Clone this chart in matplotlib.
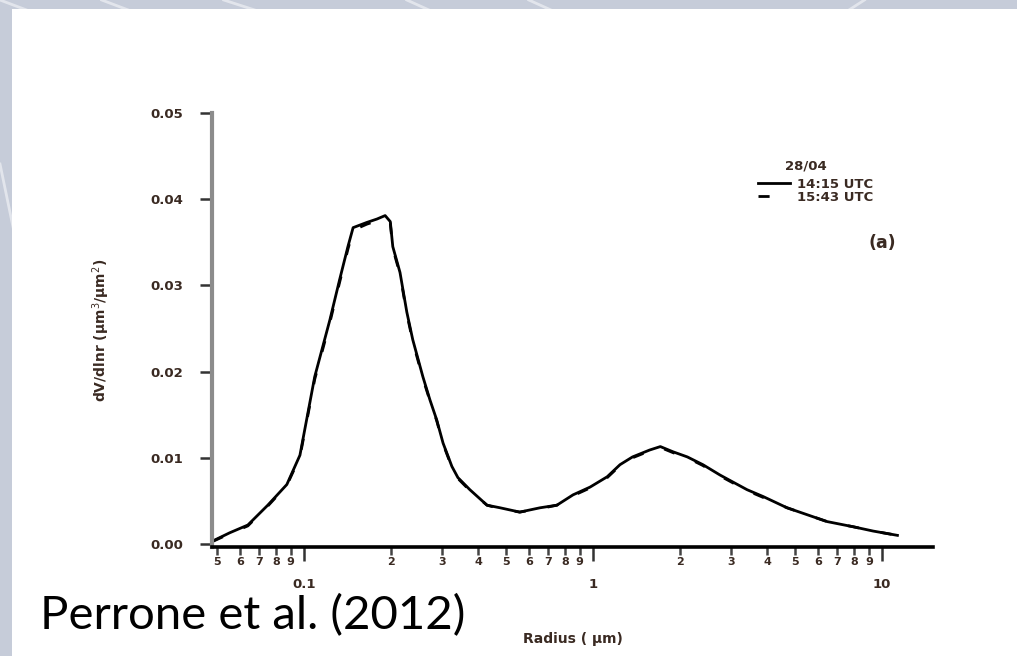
import matplotlib
matplotlib.use('Agg')
import matplotlib.pyplot as plt
from matplotlib import ticker
from matplotlib.patches import Rectangle
from matplotlib.lines import Line2D

# size distribution (radius in um, dV/dlnr)
radius = [0.0484, 0.0554, 0.0640, 0.0750, 0.0873, 0.0969, 0.109, 0.123, 0.133, 0.142,
          0.148, 0.165, 0.179, 0.191, 0.199, 0.203, 0.215, 0.227, 0.238, 0.258,
          0.273, 0.288, 0.303, 0.325, 0.341, 0.375, 0.430, 0.477, 0.558, 0.656,
          0.750, 0.853, 0.977, 1.12, 1.24, 1.37, 1.57, 1.71, 1.89, 2.12,
          2.40, 2.75, 3.41, 3.88, 4.69, 5.50, 6.45, 7.94, 9.31, 11.3]
dv_1415 = [0.00035, 0.0013, 0.0022, 0.0045, 0.0069, 0.0103, 0.0194, 0.0260, 0.0307, 0.0345,
           0.0367, 0.0373, 0.0377, 0.0381, 0.0374, 0.0345, 0.0315, 0.0269, 0.0237, 0.0194,
           0.0167, 0.0144, 0.0117, 0.0090, 0.0077, 0.0063, 0.0045, 0.0042, 0.0037, 0.0042,
           0.0045, 0.0057, 0.0066, 0.0078, 0.0092, 0.0101, 0.0109, 0.0113, 0.0107, 0.0101,
           0.0092, 0.0080, 0.0063, 0.0055, 0.0042, 0.0034, 0.0026, 0.0020, 0.0015, 0.0010]
dv_1543 = [0.00030, 0.0012, 0.0021, 0.0044, 0.0068, 0.0101, 0.0191, 0.0257, 0.0304, 0.0342,
           0.0364, 0.0371, 0.0375, 0.0378, 0.0372, 0.0343, 0.0313, 0.0267, 0.0235, 0.0192,
           0.0166, 0.0143, 0.0116, 0.0089, 0.0076, 0.0062, 0.0045, 0.0041, 0.0037, 0.0041,
           0.0045, 0.0056, 0.0065, 0.0077, 0.0091, 0.0100, 0.0108, 0.0112, 0.0106, 0.0100,
           0.0091, 0.0079, 0.0062, 0.0054, 0.0042, 0.0034, 0.0026, 0.0020, 0.0015, 0.0010]
series_labels = ['14:15 UTC', '15:43 UTC']
legend_title = '28/04'

major_ticks = [0.1, 1, 10]
major_labels = ['0.1', '1', '10']
minor_ticks = [0.05, 0.06, 0.07, 0.08, 0.09, 0.2, 0.3, 0.4, 0.5, 0.6, 0.7, 0.8, 0.9,
               2, 3, 4, 5, 6, 7, 8, 9]
minor_labels = ['5', '6', '7', '8', '9', '2', '3', '4', '5', '6', '7', '8', '9',
                '2', '3', '4', '5', '6', '7', '8', '9']
y_ticks = [0.0, 0.01, 0.02, 0.03, 0.04, 0.05]
y_labels = ['0.00', '0.01', '0.02', '0.03', '0.04', '0.05']

txt = '#3a2a22'
W, H = 1017, 656
fig = plt.figure(figsize=(W / 100, H / 100), dpi=100)
fig.patch.set_facecolor('#c6ccd9')

# slide background streaks + white content box
for x0, x1 in [(0.0, 0.12), (0.1, 0.22), (0.22, 0.36), (0.4, 0.5), (0.52, 0.62), (0.85, 0.78)]:
    fig.add_artist(Line2D([x0, x1], [1.0, 0.93], transform=fig.transFigure,
                          color='white', alpha=0.5, lw=2, zorder=0))
fig.add_artist(Line2D([0.0, 0.02], [0.75, 0.6], transform=fig.transFigure,
                      color='white', alpha=0.5, lw=2, zorder=0))
fig.add_artist(Rectangle((12 / W, 0), 1, 1 - 9 / H, transform=fig.transFigure,
                         facecolor='white', edgecolor='none', zorder=1))

ax = fig.add_axes([212 / W, 1 - 547 / H, (933 - 212) / W, (547 - 113) / H])
ax.set_zorder(2)
ax.patch.set_alpha(0)

ax.plot(radius, dv_1415, '-', color='black', lw=2.0, label=series_labels[0])
ax.plot(radius, dv_1543, color='black', lw=2.0, ls=(0, (4, 8)), label=series_labels[1])

ax.set_xscale('log')
ax.set_xlim(0.0481, 15.0)
ax.set_ylim(-0.00035, 0.05)

ax.xaxis.set_major_locator(ticker.FixedLocator(major_ticks))
ax.xaxis.set_major_formatter(ticker.FixedFormatter(major_labels))
ax.xaxis.set_minor_locator(ticker.FixedLocator(minor_ticks))
ax.xaxis.set_minor_formatter(ticker.FixedFormatter(minor_labels))
ax.yaxis.set_major_locator(ticker.FixedLocator(y_ticks))
ax.yaxis.set_major_formatter(ticker.FixedFormatter(y_labels))

ax.tick_params(axis='x', which='major', length=10, width=1.8, pad=12, labelsize=9.5,
               labelcolor=txt, color='#333333')
ax.tick_params(axis='x', which='minor', length=6, width=1.8, pad=1.5, labelsize=8,
               labelcolor=txt, color='#444444')
ax.tick_params(axis='y', which='major', length=9, width=1.8, pad=12, labelsize=9.5,
               labelcolor=txt, color='#333333')
for lab in ax.get_xticklabels(which='both') + ax.get_yticklabels():
    lab.set_fontweight('bold')

for s in ['top', 'right']:
    ax.spines[s].set_visible(False)
ax.spines['left'].set_color('#8c8c8c')
ax.spines['left'].set_linewidth(3)
ax.spines['bottom'].set_color('black')
ax.spines['bottom'].set_linewidth(2.6)

ax.set_xlabel('Radius ( μm)', fontsize=10, fontweight='bold', color=txt)
ax.set_ylabel('dV/dlnr (μm$^3$/μm$^2$)', fontsize=10, fontweight='bold', color=txt)
ax.yaxis.set_label_coords(-0.139, 0.5)
ax.xaxis.set_label_coords(0.5, -0.195)

# legend: title sits a little right of the handles
ax.text(0.795, 0.878, legend_title, transform=ax.transAxes, fontsize=9.5, fontweight='bold',
        color=txt, ha='left', va='center')
leg = ax.legend(loc='upper left', bbox_to_anchor=(0.745, 0.872),
                frameon=False, handlelength=2.4, handletextpad=0.5, labelspacing=0.02,
                borderpad=0.2, prop={'size': 9.5, 'weight': 'bold'})
for t in leg.get_texts():
    t.set_color(txt)

ax.text(0.93, 0.70, '(a)', transform=ax.transAxes, fontsize=12.5, fontweight='bold',
        color=txt, ha='center', va='center')

fig.text(40 / W, 1 - 629 / H, 'Perrone et al. (2012)', fontsize=34, family='Lato',
         color='black', ha='left', va='baseline', zorder=3)

fig.savefig('out.png', dpi=100, facecolor=fig.get_facecolor())
